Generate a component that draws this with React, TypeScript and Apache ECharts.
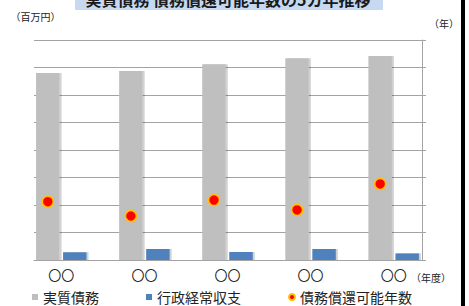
import React, { useEffect, useRef } from "react";
import * as echarts from "echarts";

const categories = ["〇〇", "〇〇", "〇〇", "〇〇", "〇〇"];
const realDebt = [680, 687, 712, 734, 742];
const adminBalance = [28, 40, 29, 40, 24];
const repayYears = [4.24, 3.2, 4.36, 3.64, 5.53];
const legendNames = ["実質債務", "行政経常収支", "債務償還可能年数"];
const titleText = "実質債務 債務償還可能年数の5カ年推移";
const leftUnit = "（百万円）";
const rightUnit = "（年）";
const xUnit = "（年度）";

const FONT = '"Noto Sans CJK JP", "Noto Sans", sans-serif';

export default function App() {
  const ref = useRef<HTMLDivElement>(null);
  useEffect(() => {
    document.body.style.margin = "0";
    if (!ref.current) return;
    const chart = echarts.init(ref.current, null, { renderer: "svg" });
    const gridLine = "#a3a3a3";
    chart.setOption({
      animation: false,
      backgroundColor: "#ffffff",
      textStyle: { fontFamily: FONT },
      grid: [
        { left: 34, right: 47, top: 40, bottom: 46 },
        { left: 19.76, right: 33.8, top: 40, bottom: 46 },
      ],
      legend: {
        left: 32,
        top: 290,
        padding: 0,
        itemGap: 47,
        itemWidth: 6,
        itemHeight: 6,
        textStyle: { fontSize: 14, color: "#222", fontFamily: FONT },
        data: [
          { name: legendNames[0], icon: "rect" },
          { name: legendNames[1], icon: "rect" },
          { name: legendNames[2], icon: "circle" },
        ],
      },
      xAxis: [
        {
          gridIndex: 0,
          type: "category",
          data: categories,
          boundaryGap: true,
          axisLine: { show: true, lineStyle: { color: gridLine, width: 1 } },
          axisTick: { show: false },
          axisLabel: { show: false },
          splitLine: { show: false },
        },
        {
          gridIndex: 1,
          type: "category",
          data: categories,
          boundaryGap: true,
          axisLine: { show: false },
          axisTick: { show: false },
          axisLabel: { fontSize: 13, color: "#222", margin: 8, fontFamily: FONT },
          splitLine: { show: false },
        },
      ],
      yAxis: [
        {
          gridIndex: 0,
          type: "value",
          min: 0,
          max: 800,
          interval: 100,
          axisLabel: { show: false },
          axisLine: { show: false },
          axisTick: { show: false },
          splitLine: { show: true, lineStyle: { color: gridLine, width: 1 } },
        },
        {
          gridIndex: 0,
          type: "value",
          position: "right",
          min: 0,
          max: 16,
          interval: 2,
          axisLabel: { show: false },
          axisLine: { show: true, lineStyle: { color: gridLine, width: 1 } },
          axisTick: { show: true, length: 4, inside: false, lineStyle: { color: gridLine } },
          splitLine: { show: false },
        },
        { gridIndex: 1, type: "value", min: 0, max: 800, show: false, splitLine: { show: false } },
        { gridIndex: 1, type: "value", min: 0, max: 16, show: false, splitLine: { show: false } },
      ],
      series: [
        {
          name: legendNames[0],
          type: "bar",
          xAxisIndex: 1,
          yAxisIndex: 2,
          data: realDebt,
          barWidth: 23.5,
          barGap: "15%",
          itemStyle: {
            color: "#bfbfbf",
            shadowColor: "rgba(0,0,0,0.18)",
            shadowBlur: 1,
            shadowOffsetX: 2,
          },
        },
        {
          name: legendNames[1],
          type: "bar",
          xAxisIndex: 1,
          yAxisIndex: 2,
          data: adminBalance,
          barWidth: 23.5,
          barGap: "15%",
          itemStyle: {
            color: "#4f81bd",
            shadowColor: "rgba(0,0,0,0.18)",
            shadowBlur: 1,
            shadowOffsetX: 2,
          },
        },
        {
          name: legendNames[2],
          type: "scatter",
          xAxisIndex: 1,
          yAxisIndex: 3,
          data: repayYears,
          symbol: "circle",
          symbolSize: 11,
          symbolOffset: [-13.5, 0],
          z: 5,
          itemStyle: { color: "#ff0000", borderColor: "#ffc000", borderWidth: 1.5, opacity: 1 },
        },
      ],
      graphic: [
        { type: "rect", shape: { x: 75, y: 0, width: 308, height: 10 }, style: { fill: "#c6d9f1" }, z: 0 },
        {
          type: "text",
          x: 228,
          y: -1,
          z: 1,
          style: {
            text: titleText,
            font: `bold 16px ${FONT}`,
            textAlign: "center",
            textVerticalAlign: "middle",
            fill: "#1a1a1a",
          },
        },
        {
          type: "text",
          x: 35.5,
          y: 16,
          style: { text: leftUnit, font: `10px ${FONT}`, textAlign: "center", textVerticalAlign: "middle", fill: "#222" },
        },
        {
          type: "text",
          x: 444,
          y: 23,
          style: { text: rightUnit, font: `10px ${FONT}`, textAlign: "center", textVerticalAlign: "middle", fill: "#222" },
        },
        {
          type: "text",
          x: 431,
          y: 277,
          style: { text: xUnit, font: `10px ${FONT}`, textAlign: "center", textVerticalAlign: "middle", fill: "#222" },
        },
        { type: "rect", shape: { x: 461, y: 0, width: 4, height: 306 }, style: { fill: "#000000" } },
      ],
    });
    return () => chart.dispose();
  }, []);
  return <div ref={ref} style={{ width: 469, height: 306 }} />;
}
